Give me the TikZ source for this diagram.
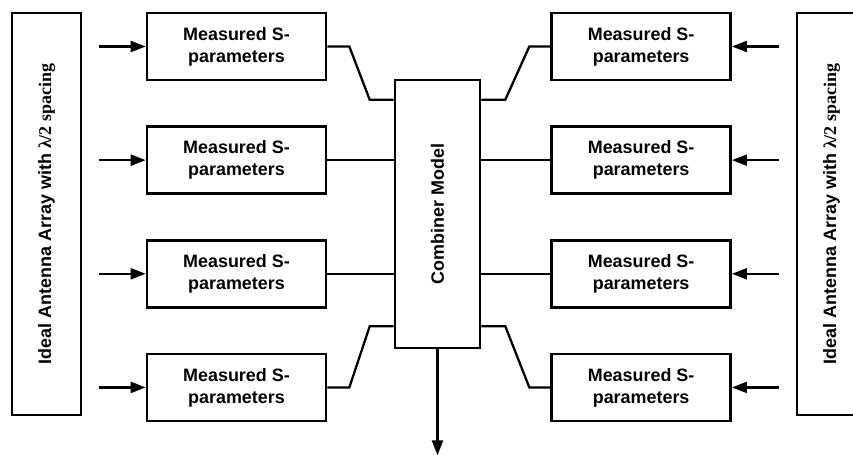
\documentclass[tikz,border=0pt]{standalone}
\usepackage{fontspec}
\setmainfont{Liberation Sans}
\newfontfamily\timesfont{Liberation Serif}
\usetikzlibrary{positioning, arrows.meta}
\tikzset{
    antenna/.style = {rectangle, minimum width=1.38cm, minimum height=8.04cm, text centered, draw=black, line width=1.5pt},
    sparam/.style = {rectangle, minimum width=3.58cm, minimum height=1.34cm, align=center, draw=black, line width=1.5pt},
    combiner/.style = {rectangle, minimum width=1.7cm, minimum height=5.36cm, text centered, draw=black, line width=1.5pt},
    arrow/.style = {line width=1.3pt, -{Triangle[length=0.3cm, width=0.22cm]}},
    link/.style = {line width=1.3pt}
}

\begin{document}
\begin{tikzpicture}[node distance=0.88cm, font=\fontsize{10.2}{12.5}\selectfont\bfseries]
\useasboundingbox (0,0) rectangle (17.06,-9.08);

% --- ANTENNA ARRAYS ---
\node (ant_left) [antenna] at (0.93,-4.28) {\rotatebox{90}{Ideal Antenna Array with {\timesfont λ/2 spacing}}};
\node (ant_right) [antenna] at (16.63,-4.28) {\rotatebox{90}{Ideal Antenna Array with {\timesfont λ/2 spacing}}};

% --- COMBINER ---
\node (comb) [combiner] at (8.75,-4.28) {\rotatebox{90}{Combiner Model}};

% --- LEFT S-PARAMETER BLOCKS ---
\node (l1) [sparam] at (4.73,-0.93) {Measured S-\\parameters};
\node (l2) [sparam, below=of l1] {Measured S-\\parameters};
\node (l3) [sparam, below=of l2] {Measured S-\\parameters};
\node (l4) [sparam, below=of l3] {Measured S-\\parameters};

% --- RIGHT S-PARAMETER BLOCKS ---
\node (r1) [sparam, right=4.46cm of l1] {Measured S-\\parameters};
\node (r2) [sparam, below=of r1] {Measured S-\\parameters};
\node (r3) [sparam, below=of r2] {Measured S-\\parameters};
\node (r4) [sparam, below=of r3] {Measured S-\\parameters};

% --- COMBINER PORTS ---
\coordinate (cw1) at ([yshift=-0.42cm]comb.north west);
\coordinate (cw4) at ([yshift=0.46cm]comb.south west);
\coordinate (ce1) at ([yshift=-0.42cm]comb.north east);
\coordinate (ce4) at ([yshift=0.46cm]comb.south east);

% --- CONNECTIONS ---

% Inputs from the arrays
\draw [arrow] ([xshift=-0.94cm]l1.west) -- (l1.west);
\draw [arrow] ([xshift=-0.94cm]l2.west) -- (l2.west);
\draw [arrow] ([xshift=-0.94cm]l3.west) -- (l3.west);
\draw [arrow] ([xshift=-0.94cm]l4.west) -- (l4.west);
\draw [arrow] ([xshift=0.94cm]r1.east) -- (r1.east);
\draw [arrow] ([xshift=0.94cm]r2.east) -- (r2.east);
\draw [arrow] ([xshift=0.94cm]r3.east) -- (r3.east);
\draw [arrow] ([xshift=0.94cm]r4.east) -- (r4.east);

% Left blocks into combiner
\draw [link] (l1.east) -- ++(0.44,0) -- ([xshift=-0.48cm]cw1) -- (cw1);
\draw [link] (l2.east) -- (l2.east -| comb.west);
\draw [link] (l3.east) -- (l3.east -| comb.west);
\draw [link] (l4.east) -- ++(0.44,0) -- ([xshift=-0.48cm]cw4) -- (cw4);

% Right blocks into combiner
\draw [link] (r1.west) -- ++(-0.42,0) -- ([xshift=0.48cm]ce1) -- (ce1);
\draw [link] (r2.west) -- (r2.west -| comb.east);
\draw [link] (r3.west) -- (r3.west -| comb.east);
\draw [link] (r4.west) -- ++(-0.42,0) -- ([xshift=0.48cm]ce4) -- (ce4);

% Output
\draw [arrow] (comb.south) -- ++(0,-2.12);

\end{tikzpicture}
\end{document}
